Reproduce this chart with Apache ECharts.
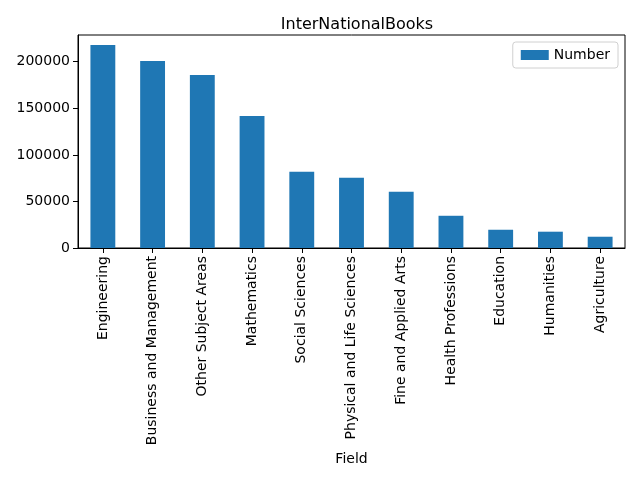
<!DOCTYPE html>
<html><head><meta charset="utf-8">
<script src="https://cdn.jsdelivr.net/npm/echarts@6/dist/echarts.min.js"></script>
<style>html,body{margin:0;padding:0;background:#fff}#c{width:640px;height:480px}</style>
</head><body><div id="c"></div>
<script>
var categories = ["Engineering","Business and Management","Other Subject Areas","Mathematics","Social Sciences","Physical and Life Sciences","Fine and Applied Arts","Health Professions","Education","Humanities","Agriculture"];
var numberValues = [217900,200700,185700,141800,81800,75300,60300,34600,19600,17500,12100];
var yTicks = [0,50000,100000,150000,200000];
var F = "DejaVu Sans";
var chart = echarts.init(document.getElementById('c'), null, {renderer:'canvas'});
chart.setOption({
  animation:false,
  backgroundColor:'#fff',
  title:{text:'InterNationalBooks',left:352,top:12,textAlign:'center',textStyle:{fontFamily:F,fontSize:16,fontWeight:'normal',color:'#000'}},
  legend:{data:['Number'],right:22,top:42,orient:'vertical',itemWidth:28,itemHeight:10,itemGap:6,padding:[6,8,6,8],
    borderColor:'#d0d0d0',borderWidth:1,borderRadius:3,icon:'rect',
    textStyle:{fontFamily:F,fontSize:14,color:'#000'}},
  grid:{left:78,right:15,top:35,bottom:232,containLabel:false,show:true,borderColor:'#000',borderWidth:1},
  xAxis:{type:'category',data:categories,name:'Field',nameLocation:'middle',nameGap:204,
    nameTextStyle:{fontFamily:F,fontSize:14,color:'#000'},
    axisLine:{show:true,lineStyle:{color:'#000',width:1}},
    axisTick:{show:true,alignWithLabel:true,length:5,lineStyle:{color:'#000'}},
    axisLabel:{rotate:90,interval:0,margin:8,fontFamily:F,fontSize:14,color:'#000'},
    splitLine:{show:false}},
  yAxis:{type:'value',min:0,max:228700,interval:50000,
    axisLine:{show:true,lineStyle:{color:'#000',width:1}},
    axisTick:{show:true,length:5,customValues:yTicks,lineStyle:{color:'#000'}},
    axisLabel:{fontFamily:F,fontSize:14,color:'#000',margin:8,customValues:yTicks,
      formatter:function(v){return String(v);}},
    splitLine:{show:false}},
  series:[{name:'Number',type:'bar',data:numberValues,barWidth:'50%',itemStyle:{color:'#1f77b4'}}]
});
</script></body></html>
